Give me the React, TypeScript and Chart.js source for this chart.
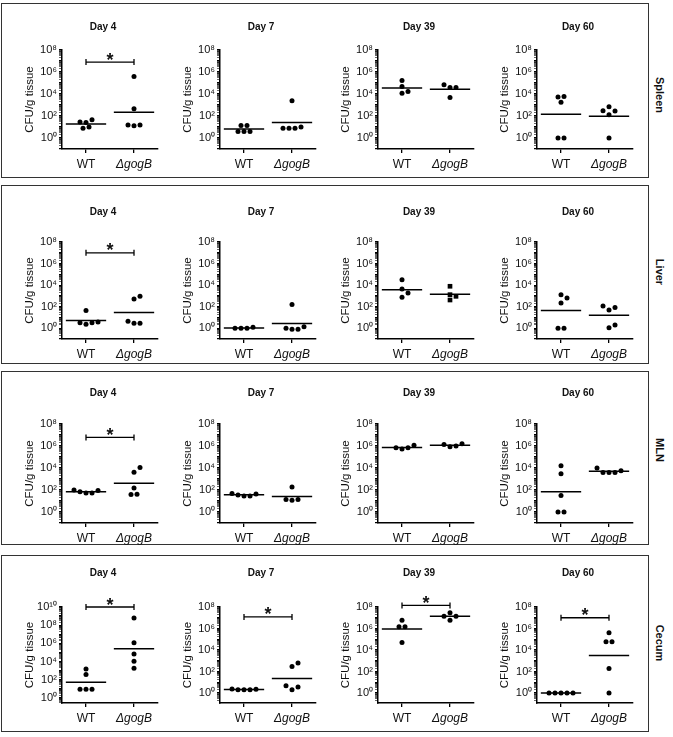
import React, { useEffect, useRef } from 'react';
import { Chart, registerables } from 'chart.js';

Chart.register(...registerables);

const FONT = '"Liberation Sans", Arial, Helvetica, sans-serif';

// ---- labels ----
const ORGANS = ['Spleen', 'Liver', 'MLN', 'Cecum'];
const DAYS = ['Day 4', 'Day 7', 'Day 39', 'Day 60'];
const GROUPS = ['WT', '\u0394gogB'];
const Y_TITLE = 'CFU/g tissue';
const SIG_MARK = '*';

// ---- data: CFU per g tissue, one list per day (Day 4, 7, 39, 60) ----
const SPLEEN_WT = [[28, 26, 46, 7.5, 10], [14, 14, 4, 4, 4], [1.7e5, 4.8e4, 1.2e4, 1.7e4], [5.2e3, 6e3, 1.8e3, 1, 1]];
const SPLEEN_KO = [[3.9e5, 460, 15, 13, 15], [2.4e3, 7.5, 7.5, 7.5, 10], [3.9e4, 3.9e4, 6.8e4, 4.9e3], [280, 690, 300, 130, 1]];
const LIVER_WT = [[45, 3.3, 2.3, 3.3, 3.8], [1, 1, 1, 1.2], [3.1e4, 4.4e3, 740, 1.9e3], [630, 1.3e3, 220, 1, 1]];
const LIVER_KO = [[920, 520, 4.4, 2.9, 2.9], [160, 1, 0.8, 0.8, 1.4], [7.8e3, 1.3e3, 415, 910], [85, 48, 114, 1.1, 2]];
const MLN_WT = [[100, 71, 54, 54, 88], [47, 35, 29, 29, 44], [6.9e5, 5.2e5, 6.9e5, 1.2e6], [1.6e4, 3e3, 31, 1, 1]];
const MLN_KO = [[4.2e3, 1.1e4, 155, 38, 41], [190, 14, 12, 14], [1.4e6, 8.5e5, 1e6, 1.6e6], [1e4, 3.9e3, 3.9e3, 3.9e3, 5.5e3]];
const CECUM_WT = [[1.5e3, 380, 9, 9, 9], [2.3, 2, 2, 2, 2.4], [6e6, 1.5e6, 1.5e6, 5e4], [1, 1, 1, 1, 1]];
const CECUM_KO = [[6e8, 1.2e6, 6.8e4, 1.1e4, 1.8e3], [620, 300, 4.8, 2, 3.6], [3e7, 1.4e7, 1.4e7, 6e6], [4e5, 5.9e4, 5.9e4, 190, 1]];

// significance bracket level (null = none)
const SPLEEN_SIG = [8e6, null, null, null];
const LIVER_SIG = [1e7, null, null, null];
const MLN_SIG = [6e6, null, null, null];
const CECUM_SIG = [1e10, 1.2e7, 1.4e8, 1e7];

// y axis ranges
const Y_MIN = [[0.1, 0.1, 0.1, 0.1], [0.1, 0.1, 0.1, 0.1], [0.1, 0.1, 0.1, 0.1], [0.28, 0.12, 0.12, 0.12]];
const Y_MAX = [[1e8, 1e8, 1e8, 1e8], [1e8, 1e8, 1e8, 1e8], [1e8, 1e8, 1e8, 1e8], [1e10, 1e8, 1e8, 1e8]];

const WT_DATA = [SPLEEN_WT, LIVER_WT, MLN_WT, CECUM_WT];
const KO_DATA = [SPLEEN_KO, LIVER_KO, MLN_KO, CECUM_KO];
const SIG_DATA = [SPLEEN_SIG, LIVER_SIG, MLN_SIG, CECUM_SIG];

// ---- layout / style ----
const COL_AXIS_X = [62, 220, 378, 537];
const ROW_TITLE_Y = [27, 212, 393, 573];
const ROW_PLOT_TOP = [50, 242, 424, 607];
const ROW_PLOT_BOTTOM = [149, 339, 523, 703];
const ROW_BOX = [[3, 178], [185, 364], [371, 545], [555, 732]];
const ROW_LABEL_Y = [95, 272, 450, 643];
const BOX_LEFT = 1;
const BOX_RIGHT = 649;
const ROW_LABEL_X = 660;
const Y_AXIS_W = 40;
const X_AXIS_H = 24;
const PLOT_W = 96;
const PAD_R = 6;
const TITLE_IN_Y = 12;
const GROUP_POS = [0.25, 0.75];
const MEAN_HALF = 0.21;
const DOT_R = 2.5;
const DOT_STEP = 6;
const DOT_MIN_DIST = 5;
const INK = '#111';

function markerFor(o: number, d: number, g: number) {
  return o === 1 && d === 2 && g === 1 ? 'rect' : 'circle';
}

const SUP: Record<string, string> = { '0': '\u2070', '1': '\u00b9', '2': '\u00b2', '3': '\u00b3', '4': '\u2074', '5': '\u2075', '6': '\u2076', '7': '\u2077', '8': '\u2078', '9': '\u2079' };
function sup(n: number) {
  return String(n).split('').map((c) => SUP[c] || c).join('');
}

function logTicks(min: number, max: number) {
  const out: any[] = [];
  for (let e = Math.floor(Math.log10(min)); e <= Math.ceil(Math.log10(max)); e++) {
    for (let k = 1; k <= 9; k++) {
      const v = k * Math.pow(10, e);
      if (v >= min * 0.999 && v <= max * 1.001) out.push({ value: v });
    }
  }
  return out;
}

function isDecade(v: number) {
  const e = Math.round(Math.log10(v));
  return Math.abs(v - Math.pow(10, e)) < 1e-6 * v;
}

function geoMean(vals: number[]) {
  return Math.pow(10, vals.reduce((s, v) => s + Math.log10(v), 0) / vals.length);
}

// simple beeswarm: returns horizontal slot per point
function swarm(values: number[], pxPerDec: number): number[] {
  const n = values.length;
  const ys = values.map((v) => Math.log10(v) * pxPerDec);
  const order = values.map((_, i) => i).sort((a, b) => values[a] - values[b]);
  const slot = new Array(n).fill(0);
  const placed: number[] = [];
  const cands = [0, 1, -1, 2, -2, 3, -3, 4, -4];
  const collides = (i: number, s: number, skip: number[]) =>
    placed.some((j) => j !== i && !skip.includes(j) && Math.hypot((slot[j] - s) * DOT_STEP, ys[j] - ys[i]) < DOT_MIN_DIST);
  for (const i of order) {
    for (const c of cands) {
      if (!collides(i, c, [])) { slot[i] = c; break; }
    }
    placed.push(i);
  }
  const done = new Set<number>();
  for (const i of order) {
    if (done.has(i)) continue;
    const row = order.filter((j) => !done.has(j) && Math.abs(ys[j] - ys[i]) < 1.5);
    row.forEach((j) => done.add(j));
    if (row.length < 2) continue;
    const mean = row.reduce((s, j) => s + slot[j], 0) / row.length;
    if (Math.abs(mean) < 1e-9) continue;
    const ok = row.every((j) => !collides(j, slot[j] - mean, row));
    if (ok) row.forEach((j) => (slot[j] -= mean));
  }
  return slot;
}

const panelText = {
  id: 'panelText',
  afterDraw(chart: any, _args: any, opts: any) {
    const { ctx, chartArea, scales } = chart;
    ctx.save();
    ctx.fillStyle = INK;
    ctx.textAlign = 'center';
    ctx.textBaseline = 'middle';
    ctx.font = `bold 10px ${FONT}`;
    ctx.fillText(opts.title, chartArea.left + chartArea.width / 2 - 7, opts.titleY);
    if (opts.sig != null) {
      const x = scales.x.getPixelForValue((GROUP_POS[0] + GROUP_POS[1]) / 2);
      const y = scales.y.getPixelForValue(opts.sig);
      ctx.textBaseline = 'alphabetic';
      ctx.font = `bold 18px ${FONT}`;
      ctx.fillText(SIG_MARK, x, y + 3.5);
    }
    ctx.restore();
  },
};

function geometry(o: number, d: number) {
  const left = COL_AXIS_X[d] - Y_AXIS_W;
  const top = ROW_TITLE_Y[o] - TITLE_IN_Y;
  const pt = ROW_PLOT_TOP[o];
  const pb = ROW_PLOT_BOTTOM[o];
  return { left, top, pt, pb, w: Y_AXIS_W + PLOT_W + PAD_R, h: pb - top + X_AXIS_H };
}

function buildConfig(o: number, d: number, g: any): any {
  const min = Y_MIN[o][d];
  const max = Y_MAX[o][d];
  const pxPerDec = (g.pb - g.pt) / (Math.log10(max) - Math.log10(min));
  const datasets: any[] = [];
  [WT_DATA[o][d], KO_DATA[o][d]].forEach((vals, gi) => {
    const slots = swarm(vals, pxPerDec);
    const cx = GROUP_POS[gi];
    const style = markerFor(o, d, gi);
    datasets.push({
      data: vals.map((v, i) => ({ x: cx + (slots[i] * DOT_STEP) / PLOT_W, y: v })),
      pointStyle: style,
      pointRadius: style === 'rect' ? 3.3 : DOT_R,
      pointBackgroundColor: '#000',
      pointBorderWidth: 0,
      showLine: false,
      clip: false,
    });
    const gm = geoMean(vals);
    datasets.push({
      data: [{ x: cx - MEAN_HALF, y: gm }, { x: cx + MEAN_HALF, y: gm }],
      showLine: true,
      borderColor: '#000',
      borderWidth: 1.5,
      pointRadius: 0,
      clip: false,
    });
  });
  const sig = SIG_DATA[o][d];
  if (sig != null) {
    datasets.push({
      data: [{ x: GROUP_POS[0], y: sig }, { x: GROUP_POS[1], y: sig }],
      showLine: true,
      borderColor: '#000',
      borderWidth: 1.3,
      pointStyle: 'line',
      pointRotation: 90,
      pointRadius: 3,
      pointBorderWidth: 1.3,
      pointBorderColor: '#000',
      clip: false,
    });
  }
  return {
    type: 'scatter',
    data: { datasets },
    plugins: [panelText],
    options: {
      animation: false,
      responsive: false,
      events: [],
      layout: { padding: { top: g.pt - g.top, left: 0, right: PAD_R, bottom: 0 } },
      plugins: {
        legend: { display: false },
        tooltip: { enabled: false },
        panelText: { title: DAYS[d], titleY: TITLE_IN_Y, sig },
      },
      scales: {
        x: {
          type: 'linear',
          min: 0,
          max: 1,
          afterBuildTicks: (s: any) => { s.ticks = GROUP_POS.map((v) => ({ value: v })); },
          afterFit: (s: any) => { s.height = X_AXIS_H; },
          ticks: {
            autoSkip: false,
            maxRotation: 0,
            padding: 4,
            color: INK,
            callback: (_v: any, i: number) => GROUPS[i],
            font: (c: any) => ({ family: FONT, size: 12, style: c.index === 1 ? 'italic' : 'normal' }),
          },
          grid: { drawOnChartArea: false, tickLength: 4, color: '#000', lineWidth: 1.3 },
          border: { display: true, color: '#000', width: 1.5 },
        },
        y: {
          type: 'logarithmic',
          min,
          max,
          afterBuildTicks: (s: any) => { s.ticks = logTicks(min, max); },
          afterFit: (s: any) => { s.width = Y_AXIS_W; },
          ticks: {
            autoSkip: false,
            padding: 2,
            color: INK,
            font: { family: FONT, size: 11 },
            callback: (v: any) => {
              const e = Math.round(Math.log10(v));
              return isDecade(v) && e >= 0 && e % 2 === 0 ? '10' + sup(e) : '';
            },
          },
          grid: {
            drawOnChartArea: false,
            tickLength: 3,
            color: '#000',
            lineWidth: (c: any) => (c.tick && isDecade(c.tick.value) ? 1.2 : 0.6),
          },
          border: { display: true, color: '#000', width: 1.5 },
          title: {
            display: true,
            text: Y_TITLE,
            color: INK,
            font: { family: FONT, size: 11.5 },
            padding: { top: 0.5, bottom: 0 },
          },
        },
      },
    },
  };
}

function Panel({ o, d }: { o: number; d: number }) {
  const ref = useRef<HTMLCanvasElement>(null);
  const g = geometry(o, d);
  useEffect(() => {
    const chart = new Chart(ref.current as HTMLCanvasElement, buildConfig(o, d, g));
    return () => chart.destroy();
  }, []);
  return (
    <canvas
      ref={ref}
      width={g.w}
      height={g.h}
      style={{ position: 'absolute', left: g.left, top: g.top, width: g.w, height: g.h }}
    />
  );
}

export default function App() {
  return (
    <div style={{ position: 'absolute', left: 0, top: 0, width: 673, height: 737, background: '#fff', overflow: 'hidden' }}>
      {ORGANS.map((name, o) => (
        <React.Fragment key={name}>
          <div
            style={{
              position: 'absolute',
              left: BOX_LEFT,
              top: ROW_BOX[o][0],
              width: BOX_RIGHT - BOX_LEFT,
              height: ROW_BOX[o][1] - ROW_BOX[o][0],
              border: '1.5px solid #333',
              boxSizing: 'border-box',
            }}
          />
          <div
            style={{
              position: 'absolute',
              left: ROW_LABEL_X,
              top: ROW_LABEL_Y[o],
              transform: 'translate(-50%, -50%) rotate(90deg)',
              font: `bold 11px ${FONT}`,
              color: INK,
              whiteSpace: 'nowrap',
            }}
          >
            {name}
          </div>
          {DAYS.map((_, d) => (
            <Panel key={d} o={o} d={d} />
          ))}
        </React.Fragment>
      ))}
    </div>
  );
}
